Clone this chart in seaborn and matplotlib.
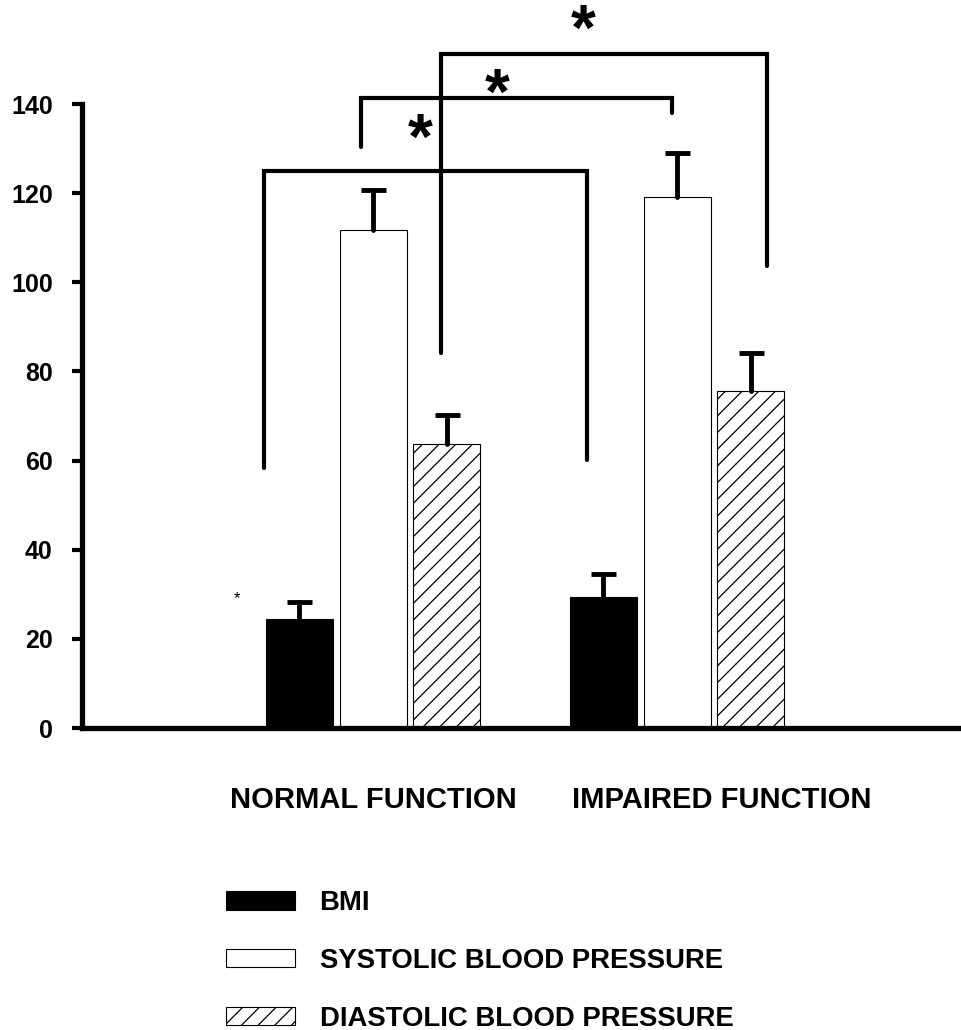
import matplotlib
matplotlib.use("Agg")
import matplotlib.pyplot as plt
import seaborn as sns
import pandas as pd
from matplotlib.patches import Patch

# ---- data ----
groups = ["NORMAL FUNCTION", "IMPAIRED FUNCTION"]
measures = ["BMI", "SYSTOLIC BLOOD PRESSURE", "DIASTOLIC BLOOD PRESSURE"]
means_normal = [24.5, 111.8, 63.8]
means_impaired = [29.3, 119.2, 75.5]
err_normal = [3.8, 8.9, 6.5]
err_impaired = [5.2, 9.9, 8.7]
yticks = [0, 20, 40, 60, 80, 100, 120, 140]

# significance brackets
brackets_x_left = [-0.359, -0.039, 0.224]
brackets_x_right = [0.704, 0.984, 1.296]
brackets_y_left = [58.3, 130.4, 84.1]
brackets_y_right = [60.1, 138.0, 103.7]
brackets_y_top = [125.0, 141.3, 151.2]
star_x = [0.155, 0.408, 0.691]
star_y = [131.6, 141.6, 156.0]

df = pd.DataFrame({
    "group": [g for g in groups for _ in measures],
    "measure": measures * 2,
    "value": means_normal + means_impaired,
    "err": err_normal + err_impaired,
})

sns.set_style("ticks")
plt.rcParams["font.family"] = ["Liberation Sans", "DejaVu Sans"]
plt.rcParams["font.weight"] = "bold"
plt.rcParams["hatch.linewidth"] = 0.9
for k in ["text.color", "axes.labelcolor", "xtick.color", "ytick.color", "axes.edgecolor"]:
    plt.rcParams[k] = "black"

fig = plt.figure(figsize=(9.62, 10.30), dpi=100)
ax = fig.add_axes([82 / 962, 1 - 728 / 1030, (960 - 82) / 962, (728 - 104) / 1030])

palette = {measures[0]: "black", measures[1]: "white", measures[2]: "white"}
sns.barplot(data=df, x="group", y="value", hue="measure", order=groups,
            hue_order=measures, palette=palette, width=0.727, gap=0.092,
            errorbar=None, edgecolor="black", linewidth=0.8, legend=False,
            saturation=1, ax=ax)

hatches = ["", "", "//"]
bar_containers = list(ax.containers)
for ci, cont in enumerate(bar_containers):
    m = measures[ci]
    for bar, g in zip(cont, groups):
        bar.set_hatch(hatches[ci])
        e = df.loc[(df.group == g) & (df.measure == m), "err"].iloc[0]
        xc = bar.get_x() + bar.get_width() / 2
        top = bar.get_height()
        el = ax.errorbar(xc, top, yerr=[[0], [e]], fmt="none",
                         ecolor="black", elinewidth=3.5, capsize=9, capthick=3.5,
                         zorder=1)
        for cap in el.lines[1]:
            if abs(cap.get_ydata()[0] - top) < 1e-6:
                cap.set_visible(False)
        for lc in el.lines[2]:
            lc.set_capstyle("round")

# brackets
for xl, xr, yl, yr, yt in zip(brackets_x_left, brackets_x_right,
                              brackets_y_left, brackets_y_right, brackets_y_top):
    ax.plot([xl, xl, xr, xr], [yl, yt, yt, yr], color="black", lw=3,
            solid_capstyle="round", solid_joinstyle="miter", clip_on=False, zorder=3)
for sx, sy in zip(star_x, star_y):
    ax.text(sx, sy, "*", fontsize=46, fontweight="bold", ha="center",
            va="center", clip_on=False)
ax.text(-0.447, 29.0, "*", fontsize=12, fontweight="normal", ha="center",
        va="center")

ax.set_xlim(-0.957, 1.93)
ax.set_ylim(0, 140)
ax.set_yticks(yticks)
ax.set_yticklabels([str(t) for t in yticks], fontsize=18, fontweight="bold")
ax.set_xticks([])
ax.set_xlabel("")
ax.set_ylabel("")
ax.tick_params(axis="y", length=7, width=3, pad=14, direction="out")
sns.despine(ax=ax)
ax.spines["left"].set_linewidth(3.8)
ax.spines["bottom"].set_linewidth(3.8)
ax.spines["left"].set_capstyle("projecting")

# category labels
label_x = [0.0, 1.148]
for lx, g in zip(label_x, groups):
    ax.text(lx, -16.2, g, fontsize=21, fontweight="bold", ha="center",
            va="center", clip_on=False)

handles = [Patch(facecolor="black", edgecolor="black", lw=0.8),
           Patch(facecolor="white", edgecolor="black", lw=0.8),
           Patch(facecolor="white", edgecolor="black", lw=0.8, hatch="//")]
leg = fig.legend(handles, measures, loc="upper left",
                 bbox_to_anchor=(226 / 962, 1 - 890 / 1030), frameon=False,
                 fontsize=19.8, handlelength=2.5, handleheight=0.65,
                 handletextpad=0.9, labelspacing=1.16, borderpad=0,
                 borderaxespad=0)
for t in leg.get_texts():
    t.set_fontweight("bold")

fig.savefig("out.png", dpi=100)
